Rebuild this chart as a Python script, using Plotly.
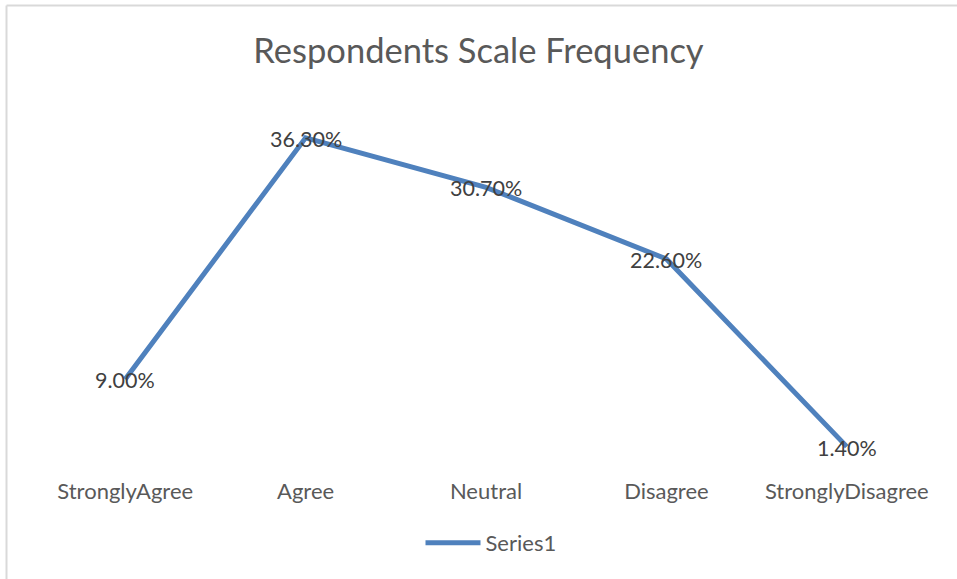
import plotly.graph_objects as go

categories = ["StronglyAgree", "Agree", "Neutral", "Disagree", "StronglyDisagree"]
values = [9.0, 36.3, 30.7, 22.6, 1.4]
series_name = "Series1"
title_text = "Respondents Scale Frequency"

FONT = "Lato, 'Open Sans', sans-serif"

xs = list(range(len(categories)))
labels = [f"{v:.2f}%" for v in values]

fig = go.Figure()
fig.add_trace(go.Scatter(
    x=xs,
    y=values,
    name=series_name,
    mode="lines",
    line=dict(color="#4F81BD", width=5),
    showlegend=True,
))

for x, v, t in zip(xs, values, labels):
    fig.add_annotation(x=x, y=v, text=t, showarrow=False, yshift=-1,
                       xanchor="center", yanchor="middle",
                       font=dict(family=FONT, size=21.5, color="#404040"))

W, H = 957, 579
L, R, T, B = 35, 20, 105, 120
pw = W - L - R
ph = H - T - B

def px_x(p):
    return (p - L) / pw

def px_y(p):
    return (T + ph - p) / ph

fig.update_layout(
    width=W, height=H,
    margin=dict(l=L, r=R, t=T, b=B),
    paper_bgcolor="white",
    plot_bgcolor="white",
    title=dict(text=title_text, x=0.5, xanchor="center", y=1 - 51 / H, yanchor="middle",
               font=dict(family=FONT, size=34.5, color="#595959")),
    xaxis=dict(
        range=[-0.5, 4.5],
        tickmode="array",
        tickvals=xs,
        ticktext=categories,
        showgrid=False, zeroline=False, showline=False, ticks="",
        tickfont=dict(family=FONT, size=22, color="#595959"),
        ticklabelstandoff=17,
        fixedrange=True,
    ),
    yaxis=dict(range=[0, 40], visible=False, fixedrange=True),
    legend=dict(
        orientation="h", x=px_x(491), xanchor="center",
        y=px_y(543), yanchor="middle",
        font=dict(family=FONT, size=22, color="#595959"),
        itemwidth=55,
    ),
    shapes=[
        dict(type="line", xref="paper", yref="paper",
             x0=px_x(6.5), x1=px_x(6.5), y0=px_y(5.5), y1=px_y(H + 10),
             line=dict(color="#D9D9D9", width=2), layer="below"),
        dict(type="line", xref="paper", yref="paper",
             x0=px_x(6.5), x1=px_x(W + 10), y0=px_y(5.5), y1=px_y(5.5),
             line=dict(color="#D9D9D9", width=2), layer="below"),
    ],
)

fig.write_html(
    "out.html",
    config={"displayModeBar": False},
    post_script="document.body.style.margin='0';document.body.style.overflow='hidden';",
)
